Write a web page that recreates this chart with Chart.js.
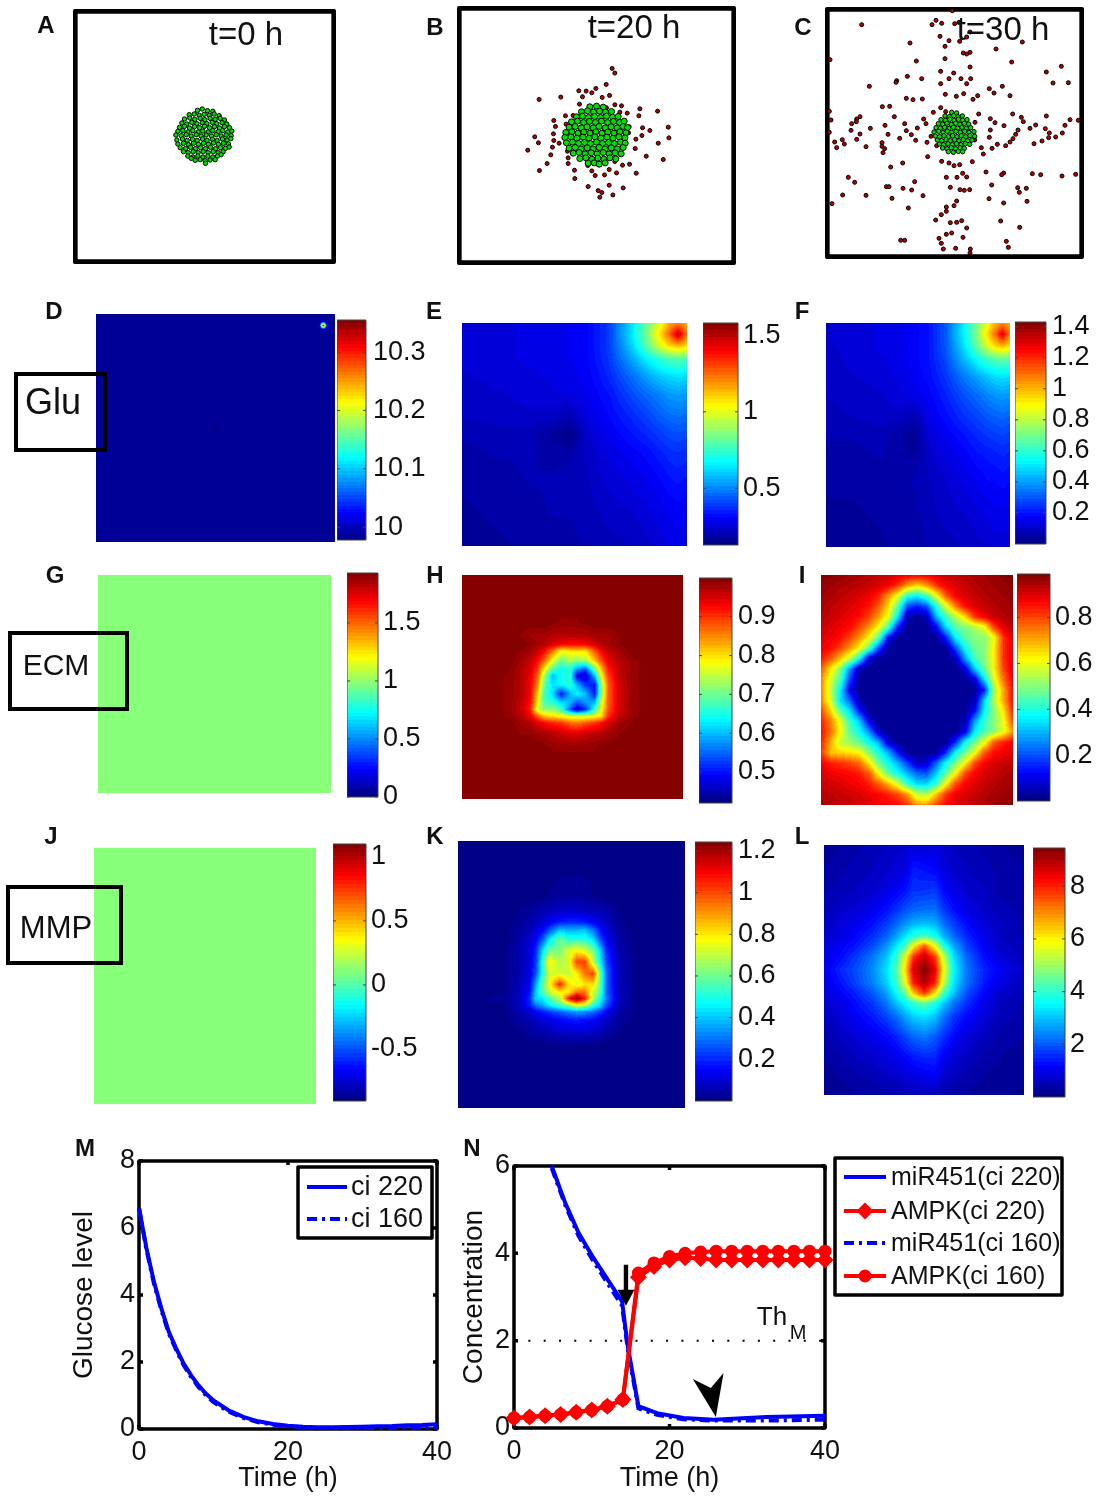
<!DOCTYPE html>
<html>
<head>
<meta charset="utf-8">
<title>Tumor growth panels</title>
<script src="https://cdn.jsdelivr.net/npm/chart.js@4"></script>
<style>
  html, body { margin: 0; background: #fff; }
  body { position: relative; width: 1097px; height: 1497px; overflow: hidden; font-family: "Liberation Sans", sans-serif; color: #111; }
  canvas { position: absolute; }
  .lbl { position: absolute; transform: translate(-50%, -50%); white-space: nowrap; line-height: 1; z-index: 5; }
  .box { position: absolute; border: 4px solid #000; box-sizing: border-box; z-index: 4; }
</style>
</head>
<body>
<script>
// ---- panel A-C: cell positions
const tumorA = [[592,332],[606,328],[622,333],[638,335],[567,345],[582,343],[597,347],[612,344],[627,347],[642,343],[657,348],[553,358],[569,355],[584,359],[600,356],[614,360],[630,356],[645,359],[660,356],[673,361],[545,370],[560,373],[575,368],[590,372],[606,369],[620,372],[636,368],[650,372],[666,369],[680,373],[538,383],[553,380],[568,385],[583,381],[598,384],[613,380],[628,384],[643,381],[658,385],[673,381],[688,384],[533,395],[548,393],[563,397],[578,393],[594,397],[608,394],[624,397],[638,393],[654,396],[668,393],[683,397],[695,394],[527,406],[543,408],[558,405],[573,409],[588,405],[603,409],[618,406],[634,409],[648,405],[663,409],[678,406],[693,408],[530,421],[547,418],[561,422],[577,419],[591,422],[607,418],[621,422],[637,419],[651,422],[667,418],[681,421],[692,417],[533,433],[550,431],[565,435],[580,431],[595,434],[610,431],[625,434],[640,430],[655,434],[670,431],[685,433],[540,444],[556,447],[571,443],[586,447],[601,444],[616,447],[631,443],[646,447],[661,444],[676,446],[687,442],[550,456],[564,459],[579,456],[594,459],[609,456],[624,459],[639,456],[654,459],[669,456],[563,469],[578,472],[593,469],[608,472],[623,469],[638,472],[652,469],[663,465],[573,476],[585,482],[600,480],[615,483],[630,481],[645,480],[616,491]];
const tumorB = [[450,319],[470,317],[490,320],[425,334],[443,331],[461,335],[479,332],[497,335],[515,333],[410,349],[428,347],[446,351],[464,348],[482,351],[500,347],[518,350],[535,348],[395,364],[413,362],[431,366],[449,363],[467,366],[485,362],[503,366],[521,363],[539,366],[553,362],[388,380],[406,378],[424,382],[442,379],[460,382],[478,378],[496,382],[514,379],[532,382],[550,378],[563,381],[378,396],[396,394],[414,398],[432,395],[450,398],[468,394],[486,398],[504,395],[522,398],[540,394],[558,397],[375,411],[393,409],[411,413],[429,410],[447,413],[465,409],[483,413],[501,410],[519,413],[537,409],[555,412],[380,427],[398,425],[416,429],[434,426],[452,429],[470,425],[488,429],[506,426],[524,429],[542,425],[556,428],[388,443],[406,441],[424,445],[442,442],[460,445],[478,441],[496,445],[514,442],[532,445],[550,441],[400,458],[418,456],[436,460],[454,457],[472,460],[490,456],[508,460],[526,457],[544,460],[420,474],[438,472],[456,476],[474,473],[492,476],[510,472],[528,475],[445,488],[463,487],[478,491],[496,487]];
const tumorC = [[425,338],[440,340],[405,349],[418,351],[431,348],[444,351],[457,349],[393,360],[406,362],[419,359],[432,362],[445,359],[458,362],[471,360],[385,372],[398,374],[411,371],[424,374],[437,371],[450,374],[463,371],[476,373],[378,384],[391,386],[404,383],[417,386],[430,383],[443,386],[456,383],[469,386],[482,384],[372,397],[386,395],[399,398],[412,395],[425,398],[438,395],[451,398],[464,395],[477,398],[492,396],[376,409],[389,411],[402,408],[415,411],[428,408],[441,411],[454,408],[467,411],[480,408],[494,410],[382,421],[395,423],[408,420],[421,423],[434,420],[447,423],[460,420],[473,423],[486,421],[388,433],[401,435],[414,432],[427,435],[440,432],[453,435],[466,432],[479,434],[398,445],[411,447],[424,444],[437,447],[450,444],[463,446],[415,456],[430,458],[445,455],[458,456]];
const invasiveB = [[517,204],[525,218],[499,252],[298,297],[363,290],[417,271],[439,272],[456,277],[468,264],[428,289],[487,291],[509,285],[419,311],[525,313],[545,316],[600,325],[653,332],[540,335],[562,338],[597,346],[342,360],[377,346],[400,345],[347,378],[379,371],[568,379],[608,382],[630,390],[685,380],[341,400],[285,409],[296,427],[342,420],[358,428],[566,397],[606,405],[588,416],[687,412],[338,440],[264,449],[655,428],[586,444],[383,452],[333,463],[385,472],[619,467],[670,477],[322,489],[385,489],[525,483],[548,494],[569,491],[444,495],[299,510],[404,509],[456,511],[508,507],[530,517],[589,518],[466,525],[494,523],[405,534],[445,558],[508,554],[550,562],[475,570],[486,576],[519,583],[480,590],[500,322]];
const invasiveC = [[155,75],[427,33],[378,62],[366,75],[395,71],[434,72],[447,68],[480,97],[390,110],[417,123],[405,140],[449,125],[470,112],[637,127],[300,130],[558,148],[460,160],[470,163],[480,158],[405,177],[319,184],[605,187],[60,180],[480,202],[392,215],[431,220],[709,217],[754,200],[292,230],[260,243],[335,237],[417,237],[453,237],[482,237],[470,252],[392,252],[258,248],[729,250],[775,249],[178,260],[577,260],[538,267],[552,280],[461,282],[406,284],[439,290],[600,288],[503,288],[289,296],[309,300],[337,298],[489,299],[217,321],[239,320],[392,324],[370,338],[407,336],[506,343],[608,343],[253,351],[150,351],[140,358],[139,366],[125,372],[63,361],[341,358],[348,372],[541,357],[555,369],[634,353],[640,366],[709,349],[780,360],[765,377],[284,372],[225,377],[181,386],[123,392],[322,385],[289,393],[582,378],[541,391],[495,368],[660,386],[677,376],[706,387],[718,400],[624,391],[757,400],[150,403],[234,404],[304,405],[269,416],[363,410],[617,404],[538,413],[716,414],[737,412],[140,419],[97,420],[103,433],[74,427],[80,444],[216,429],[317,422],[351,428],[494,421],[609,417],[600,427],[587,438],[562,434],[672,432],[696,424],[168,441],[216,440],[224,447],[219,459],[380,438],[514,444],[546,446],[520,463],[353,471],[487,486],[395,485],[417,490],[432,498],[449,495],[278,490],[242,502],[528,517],[458,521],[441,533],[470,532],[409,533],[581,520],[575,525],[667,522],[692,525],[756,529],[797,524],[115,533],[134,548],[314,546],[545,556],[229,561],[237,561],[279,566],[305,571],[421,563],[450,570],[463,572],[479,570],[623,564],[649,566],[628,578],[98,586],[168,587],[339,588],[246,596],[537,597],[581,610],[651,605],[66,612],[440,604],[432,618],[409,622],[295,625],[409,635],[394,645],[377,661],[455,663],[421,669],[440,668],[572,664],[470,685],[629,683],[425,700],[409,704],[387,716],[459,713],[272,722],[284,722],[589,725],[394,731],[595,743],[400,748],[437,746],[481,748],[480,760],[58,335],[58,398],[805,362]];

// ---- panels D-L: field values on read-off nodes
const dX = [0,47,50,53,91.9,93.5,95.1,96.7,98.3,100];
const dY = [0,1.6,3.3,5,6.7,8.4,46,50,54,100];
const dGrid = [
  [9.987,9.987,9.987,9.987,9.987,9.987,9.987,9.987,9.987,9.987],
  [9.987,9.987,9.987,9.987,9.987,9.987,9.987,9.987,9.987,9.987],
  [9.987,9.987,9.987,9.987,9.987,9.987,10.0,9.987,9.987,9.987],
  [9.987,9.987,9.987,9.987,9.987,10.0,10.35,10.0,9.987,9.987],
  [9.987,9.987,9.987,9.987,9.987,9.987,10.0,9.987,9.987,9.987],
  [9.987,9.987,9.987,9.987,9.987,9.987,9.987,9.987,9.987,9.987],
  [9.987,9.987,9.987,9.987,9.987,9.987,9.987,9.987,9.987,9.987],
  [9.987,9.987,9.981,9.987,9.987,9.987,9.987,9.987,9.987,9.987],
  [9.987,9.987,9.987,9.987,9.987,9.987,9.987,9.987,9.987,9.987],
  [9.987,9.987,9.987,9.987,9.987,9.987,9.987,9.987,9.987,9.987]
];
const efX = [0,15,30,40,48,56,65,75,82,88,92,96,100];
const efY = [0,5,10,16,24,32,42,50,58,70,85,100];
const eGrid = [
  [.25,.26,.27,.28,.29,.31,.39,.62,.82,1.0,1.15,1.2,1.15],
  [.25,.26,.27,.28,.29,.31,.39,.63,.84,1.08,1.25,1.5,1.22],
  [.25,.26,.27,.28,.29,.31,.39,.6,.8,1.0,1.1,1.15,1.1],
  [.25,.26,.27,.28,.29,.31,.38,.54,.66,.74,.78,.8,.78],
  [.24,.25,.26,.27,.28,.3,.36,.46,.54,.6,.62,.64,.62],
  [.23,.24,.25,.26,.27,.29,.33,.41,.46,.5,.53,.54,.53],
  [.22,.23,.24,.23,.2,.27,.31,.36,.4,.44,.46,.47,.46],
  [.2,.21,.21,.17,.14,.24,.29,.33,.36,.39,.41,.42,.41],
  [.19,.2,.2,.19,.19,.23,.27,.3,.32,.35,.37,.38,.37],
  [.18,.19,.2,.2,.21,.22,.25,.27,.29,.31,.33,.34,.33],
  [.17,.18,.19,.2,.2,.21,.23,.24,.26,.28,.29,.3,.29],
  [.17,.17,.18,.18,.19,.2,.21,.22,.23,.25,.27,.28,.27]
];
const fGrid = [
  [.11,.12,.14,.15,.17,.2,.3,.52,.7,.88,1.0,1.05,1.0],
  [.11,.12,.14,.15,.17,.2,.3,.53,.72,.95,1.1,1.3,1.05],
  [.11,.12,.14,.15,.17,.2,.3,.5,.68,.86,.96,1.0,.95],
  [.1,.12,.13,.15,.17,.2,.28,.44,.55,.63,.66,.68,.66],
  [.1,.11,.12,.14,.16,.19,.25,.35,.41,.46,.49,.5,.49],
  [.09,.1,.11,.13,.15,.17,.22,.29,.33,.37,.39,.4,.39],
  [.08,.09,.1,.1,.07,.15,.19,.24,.27,.3,.31,.32,.31],
  [.07,.07,.08,.05,.03,.12,.16,.2,.23,.25,.26,.27,.26],
  [.06,.06,.07,.05,.04,.1,.14,.17,.2,.21,.22,.23,.22],
  [.05,.05,.06,.06,.07,.09,.11,.14,.16,.18,.18,.19,.18],
  [.04,.04,.05,.06,.06,.08,.1,.11,.13,.14,.15,.15,.15],
  [.03,.03,.04,.05,.05,.07,.08,.09,.1,.11,.12,.12,.12]
];
const flatX = [0,100];
const flatY = [0,100];
const gGrid = [[.994,.994],[.994,.994]];
const jGrid = [[.127,.127],[.127,.127]];
const hX = [37,176,215,242,262,282,308,334,361,381,407,434,454,473,506,552,698];
const hY = [46,187,227,254,274,301,328,348,375,402,428,449,469,489,522,563,717];
const hGrid = [
  [1,1,1,1,1,1,1,1,1,1,1,1,1,1,1,1,1],
  [1,1,1,1,1,1,.995,.99,.99,.99,.995,1,1,1,1,1,1],
  [1,1,.99,.98,.98,.98,.97,.97,.97,.97,.97,.98,.98,.98,.99,1,1],
  [1,1,1,.99,.98,.97,.95,.93,.92,.92,.93,.95,.97,.98,.99,1,1],
  [1,1,.99,.98,.96,.93,.86,.78,.8,.8,.8,.88,.93,.96,.98,1,1],
  [1,1,.98,.96,.93,.88,.78,.70,.74,.72,.74,.82,.89,.94,.97,.99,1],
  [1,.995,.97,.95,.90,.80,.68,.64,.66,.58,.54,.70,.82,.91,.96,.99,1],
  [1,.99,.97,.94,.88,.74,.60,.65,.66,.48,.46,.60,.78,.89,.96,.99,1],
  [1,.99,.97,.93,.86,.70,.62,.64,.66,.60,.52,.50,.72,.87,.95,.99,1],
  [1,.99,.97,.93,.82,.68,.62,.50,.60,.64,.60,.50,.72,.87,.95,.99,1],
  [1,.99,.96,.92,.80,.68,.66,.62,.60,.54,.58,.60,.76,.87,.95,.99,1],
  [1,.99,.96,.91,.76,.72,.72,.68,.54,.46,.52,.66,.78,.88,.95,.99,1],
  [1,.99,.97,.94,.88,.82,.80,.78,.76,.76,.76,.78,.80,.90,.96,.99,1],
  [1,1,.98,.97,.95,.93,.91,.90,.87,.86,.88,.90,.92,.95,.98,.995,1],
  [1,1,.99,.99,.98,.98,.97,.96,.95,.95,.96,.97,.97,.98,.99,1,1],
  [1,1,1,1,1,.995,.99,.99,.99,.99,.99,.99,1,1,1,1,1],
  [1,1,1,1,1,1,1,1,1,1,1,1,1,1,1,1,1]
];
const iX = [62,91,120,149,178,207,235,264,293,322,351,380,409,438,467,496,525,553,582,611,640];
const iY = [46,77,109,140,171,202,234,265,296,328,359,390,422,453,484,515,547,578,609,640,672,703,735];
const iGrid = [
  [.98,.98,.97,.96,.95,.94,.93,.92,.9,.88,.87,.88,.9,.92,.93,.94,.95,.96,.97,.98,.99],
  [.97,.96,.95,.94,.93,.92,.9,.88,.82,.72,.66,.72,.82,.88,.9,.92,.94,.95,.96,.97,.98],
  [.96,.95,.93,.92,.9,.88,.84,.72,.6,.4,.36,.44,.6,.78,.87,.9,.92,.94,.95,.96,.97],
  [.95,.93,.92,.9,.88,.85,.78,.66,.46,.2,.15,.2,.4,.58,.75,.86,.9,.92,.94,.95,.96],
  [.94,.92,.9,.88,.86,.8,.72,.6,.36,.05,.02,.05,.3,.44,.54,.66,.82,.88,.92,.94,.95],
  [.92,.9,.88,.86,.8,.72,.62,.45,.15,.02,.02,.02,.12,.34,.46,.5,.54,.6,.8,.9,.93],
  [.9,.88,.86,.8,.72,.62,.46,.12,.02,.02,.02,.02,.02,.15,.36,.46,.5,.5,.6,.82,.9],
  [.88,.86,.8,.72,.62,.46,.2,.02,.02,.02,.02,.02,.02,.02,.2,.38,.48,.5,.62,.82,.9],
  [.85,.78,.68,.56,.38,.08,.02,.02,.02,.02,.02,.02,.02,.02,.05,.28,.44,.5,.62,.82,.9],
  [.78,.64,.5,.26,.04,.02,.02,.02,.02,.02,.02,.02,.02,.02,.02,.08,.32,.46,.62,.8,.9],
  [.74,.58,.44,.18,.02,.02,.02,.02,.02,.02,.02,.02,.02,.02,.02,.02,.08,.34,.58,.76,.88],
  [.74,.56,.36,.1,.02,.02,.02,.02,.02,.02,.02,.02,.02,.02,.02,.02,.02,.14,.52,.7,.87],
  [.74,.58,.34,.22,.04,.02,.02,.02,.02,.02,.02,.02,.02,.02,.02,.02,.06,.32,.54,.7,.87],
  [.8,.66,.46,.34,.14,.02,.02,.02,.02,.02,.02,.02,.02,.02,.02,.02,.12,.36,.5,.64,.84],
  [.84,.74,.6,.42,.32,.1,.02,.02,.02,.02,.02,.02,.02,.02,.02,.05,.28,.42,.5,.6,.8],
  [.86,.76,.62,.46,.38,.26,.06,.02,.02,.02,.02,.02,.02,.02,.02,.1,.36,.44,.5,.6,.72],
  [.84,.7,.56,.52,.46,.38,.3,.08,.02,.02,.02,.02,.02,.02,.16,.38,.48,.6,.78,.84,.88],
  [.82,.68,.66,.64,.62,.5,.4,.3,.14,.02,.02,.02,.02,.16,.38,.48,.6,.78,.86,.88,.9],
  [.88,.84,.82,.8,.76,.64,.48,.38,.3,.18,.06,.08,.22,.38,.48,.62,.8,.87,.9,.92,.93],
  [.9,.88,.87,.86,.84,.78,.62,.46,.38,.3,.22,.2,.32,.46,.62,.8,.87,.9,.92,.94,.95],
  [.92,.91,.9,.88,.87,.84,.78,.7,.58,.42,.34,.34,.42,.62,.8,.87,.9,.92,.94,.95,.96],
  [.94,.93,.92,.91,.9,.88,.86,.84,.8,.72,.56,.54,.68,.82,.88,.9,.92,.94,.95,.96,.97],
  [.95,.94,.93,.92,.91,.9,.88,.87,.86,.82,.72,.72,.8,.86,.9,.91,.93,.94,.96,.97,.98]
];
const kX = [25,170,210,240,258,278,298,330,355,380,405,430,450,470,505,555,705];
const kY = [32,195,240,275,300,325,360,395,430,462,485,505,525,545,570,640,833];
const kGrid = [
  [0,0,0,0,0,0,0,0,0,0,0,0,0,0,0,0,0],
  [0,0,0,0,0,.01,.02,.03,.03,.03,.03,.02,.01,0,0,0,0],
  [0,0,.02,.03,.05,.06,.07,.08,.09,.09,.08,.07,.06,.05,.02,0,0],
  [0,.01,.03,.05,.07,.10,.13,.18,.20,.20,.18,.14,.11,.08,.03,0,0],
  [0,.01,.04,.07,.10,.15,.25,.40,.38,.38,.40,.30,.18,.11,.04,.01,0],
  [0,.01,.05,.09,.14,.25,.42,.60,.50,.50,.50,.42,.25,.14,.05,.01,0],
  [0,.02,.06,.11,.20,.42,.60,.62,.72,.78,.72,.62,.42,.20,.06,.01,0],
  [0,.02,.06,.12,.22,.50,.80,.68,.72,1.0,1.02,.70,.48,.24,.07,.02,0],
  [0,.02,.06,.13,.25,.50,.72,.72,.70,.78,.95,1.02,.62,.28,.07,.02,0],
  [0,.02,.07,.15,.35,.58,.76,1.05,.82,.74,.80,.82,.60,.28,.07,.02,0],
  [0,.02,.08,.17,.40,.56,.70,.80,.78,.95,.95,.72,.58,.28,.08,.02,0],
  [0,.03,.09,.20,.42,.44,.56,.68,1.05,1.24,1.05,.68,.50,.30,.08,.02,0],
  [0,.02,.08,.18,.30,.36,.44,.55,.62,.75,.70,.52,.42,.25,.07,.02,0],
  [0,.02,.06,.10,.14,.18,.22,.26,.30,.34,.32,.28,.22,.14,.05,.01,0],
  [0,.01,.04,.06,.08,.10,.12,.15,.17,.18,.17,.15,.12,.08,.04,.01,0],
  [0,0,0,.01,.01,.01,.02,.02,.02,.02,.02,.02,.02,.01,0,0,0],
  [0,0,0,0,0,0,0,0,0,0,0,0,0,0,0,0,0]
];
const lX = [42,90,140,190,230,260,285,310,343,375,400,430,470,520,570,642];
const lY = [46,120,180,240,280,320,350,380,420,460,490,520,560,620,680,740,795];
const lGrid = [
  [.2,.3,.4,.5,.6,.7,.7,.8,.8,.8,.7,.6,.5,.4,.3,.2],
  [.3,.4,.5,.6,.7,.8,.9,1.4,1.3,1.2,.9,.7,.6,.5,.4,.3],
  [.4,.5,.6,.7,.9,1.1,1.3,1.6,1.6,1.7,1.2,.9,.7,.6,.4,.3],
  [.5,.7,.8,1.0,1.3,1.6,1.9,2.1,2.2,2.2,1.7,1.3,.9,.7,.5,.4],
  [.6,.8,1.0,1.3,1.7,2.1,2.5,2.8,2.9,2.8,2.2,1.7,1.2,.8,.6,.4],
  [.7,.9,1.2,1.6,2.1,2.7,3.3,3.9,4.3,3.8,2.9,2.2,1.5,1.0,.6,.4],
  [.8,1.1,1.4,1.9,2.6,3.4,4.2,6.0,7.6,5.8,4.0,2.8,1.8,1.1,.7,.5],
  [.9,1.2,1.7,2.3,3.0,4.0,5.6,7.8,8.8,7.7,5.4,3.3,2.1,1.3,.8,.5],
  [1.0,1.5,1.9,2.5,3.3,4.3,6.2,8.6,9.45,8.5,6.0,3.6,2.3,1.5,1.1,.6],
  [.9,1.3,1.8,2.4,3.1,4.1,5.6,8.0,9.0,8.0,5.4,3.4,2.2,1.4,.9,.5],
  [.8,1.1,1.5,2.0,2.7,3.6,4.4,6.4,7.8,6.2,4.2,3.0,1.9,1.2,.7,.5],
  [.7,.9,1.3,1.7,2.3,3.0,3.5,4.0,4.4,3.8,3.1,2.3,1.6,1.0,.6,.4],
  [.6,.8,1.1,1.4,1.8,2.2,2.7,3.1,3.3,3.0,2.3,1.7,1.2,.8,.5,.4],
  [.4,.6,.8,1.0,1.2,1.5,1.8,2.1,2.3,2.0,1.6,1.2,.8,.6,.4,.3],
  [.3,.4,.6,.7,.9,1.0,1.2,1.4,1.5,1.5,1.1,.8,.6,.4,.3,.2],
  [.2,.3,.4,.5,.6,.7,.8,.9,1.0,1.1,.7,.6,.4,.3,.2,.2],
  [.1,.2,.3,.3,.4,.4,.5,.5,.5,.5,.4,.3,.3,.2,.2,.1]
];

// colour ranges and colorbar ticks
const dRange = [9.978,10.355], dTicks = [10,10.1,10.2,10.3];
const eRange = [.13,1.58], eTicks = [.5,1,1.5];
const fRange = [0,1.43], fTicks = [.2,.4,.6,.8,1,1.2,1.4];
const gRange = [0,1.93], gTicks = [0,.5,1,1.5];
const hRange = [.42,1], hTicks = [.5,.6,.7,.8,.9];
const iRange = [0,.99], iTicks = [.2,.4,.6,.8];
const jRange = [-.906,1.1], jTicks = [-.5,0,.5,1];
const kRange = [0,1.243], kTicks = [.2,.4,.6,.8,1,1.2];
const lRange = [0,9.45], lTicks = [2,4,6,8];

// ---- panel M
const glucoseTime = [0,1,2,3,4,5,6,7,8,9,10,12,14,16,18,20,22,24,26,28,30,32,34,36,38,40];
const glucose220 = [6.6,5.4,4.4,3.6,2.9,2.4,1.95,1.6,1.3,1.05,.85,.56,.36,.23,.15,.1,.07,.05,.05,.06,.07,.08,.09,.11,.12,.14];
const glucose160 = [6.6,5.35,4.35,3.55,2.85,2.35,1.9,1.55,1.25,1,.8,.52,.33,.2,.13,.08,.05,.03,.03,.03,.03,.03,.03,.03,.04,.04];
const mTicksX = [0,20,40], mTicksY = [0,2,4,6,8];

// ---- panel N
const mirTime = [4.85,6.6,8.3,10.2,11.9,13.9,14.3,14.7,15.4,16,18.4,21.8,25.7,32.5,40];
const mir220 = [6,5.15,4.47,3.9,3.44,2.9,2.33,1.8,1.1,.5,.34,.23,.19,.25,.28];
const mir160 = [5.95,5.1,4.4,3.82,3.35,2.8,2.25,1.72,1.05,.45,.3,.2,.17,.17,.19];
const ampkTime = [0,2,4,6,8,10,12,14,16,18,20,22,24,26,28,30,32,34,36,38,40];
const ampk220 = [.23,.25,.28,.31,.36,.41,.5,.65,3.45,3.7,3.85,3.9,3.88,3.85,3.85,3.85,3.85,3.85,3.85,3.85,3.85];
const ampk160 = [.23,.25,.28,.31,.36,.41,.5,.65,3.55,3.78,3.93,4,4.03,4.05,4.05,4.05,4.05,4.05,4.05,4.05,4.05];
const thresholdX = [1.85,39.5], thresholdY = [2,2];
const nTicksX = [0,20,40], nTicksY = [0,2,4,6];
const arrowTip = [14.4,2.8], arrowheadTip = [25.96,.25];

Chart.defaults.font.family = '"Liberation Sans", sans-serif';
Chart.defaults.color = '#111';
Chart.defaults.animation = false;

function jet(t) {
  const idx = Math.max(0, Math.min(63, Math.floor(t * 64)));
  const v = (idx + .5) / 64;
  const c = n => Math.round(255 * Math.max(0, Math.min(1, n)));
  return [c(Math.min(4 * v - 1.5, 4.5 - 4 * v)), c(Math.min(4 * v - .5, 3.5 - 4 * v)), c(Math.min(4 * v + .5, 2.5 - 4 * v))];
}

function locate(nodes, v) {
  let i = 0;
  while (i < nodes.length - 2 && v > nodes[i + 1]) i++;
  const f = (v - nodes[i]) / (nodes[i + 1] - nodes[i]);
  return [i, Math.max(0, Math.min(1, f))];
}

// like matlab shading interp: colours each pixel from the grid through the chart's scales
const heatPlugin = {
  id: 'heat',
  beforeDatasetsDraw(chart) {
    const ds = chart.data.datasets[0];
    if (!ds || !ds.grid) return;
    const a = chart.chartArea;
    const w = Math.round(a.right - a.left), h = Math.round(a.bottom - a.top);
    const off = document.createElement('canvas');
    off.width = w; off.height = h;
    const octx = off.getContext('2d');
    const img = octx.createImageData(w, h);
    const cols = [], rows = [];
    for (let i = 0; i < w; i++) cols.push(locate(ds.xNodes, chart.scales.x.getValueForPixel(a.left + i + .5)));
    for (let j = 0; j < h; j++) rows.push(locate(ds.yNodes, chart.scales.y.getValueForPixel(a.top + j + .5)));
    let p = 0;
    rows.forEach(([r, fr]) => {
      cols.forEach(([c, fc]) => {
        const top = ds.grid[r][c] * (1 - fc) + ds.grid[r][c + 1] * fc;
        const bot = ds.grid[r + 1][c] * (1 - fc) + ds.grid[r + 1][c + 1] * fc;
        const v = top * (1 - fr) + bot * fr;
        const rgb = jet((v - ds.range[0]) / (ds.range[1] - ds.range[0]));
        img.data[p++] = rgb[0]; img.data[p++] = rgb[1]; img.data[p++] = rgb[2]; img.data[p++] = 255;
      });
    });
    octx.putImageData(img, 0, 0);
    chart.ctx.drawImage(off, a.left, a.top);
  }
};

// box round the plot area with short inward ticks
const framePlugin = {
  id: 'frame',
  beforeDatasetsDraw(chart, args, opts) {
    if (!opts.width) return;
    const ctx = chart.ctx, a = chart.chartArea, ins = opts.inset || 0;
    ctx.save();
    ctx.strokeStyle = opts.color || '#000';
    ctx.lineWidth = opts.width;
    ctx.lineJoin = 'round';
    ctx.strokeRect(a.left + ins, a.top + ins, a.right - a.left - 2 * ins, a.bottom - a.top - 2 * ins);
    if (opts.tick) {
      ctx.beginPath();
      if (chart.scales.x.options.display) chart.scales.x.ticks.forEach(t => {
        const x = chart.scales.x.getPixelForValue(t.value);
        ctx.moveTo(x, a.top); ctx.lineTo(x, a.top + opts.tick);
        ctx.moveTo(x, a.bottom); ctx.lineTo(x, a.bottom - opts.tick);
      });
      chart.scales.y.ticks.forEach(t => {
        const y = chart.scales.y.getPixelForValue(t.value);
        ctx.moveTo(a.left, y); ctx.lineTo(a.left + opts.tick, y);
        ctx.moveTo(a.right, y); ctx.lineTo(a.right - opts.tick, y);
      });
      ctx.stroke();
    }
    ctx.restore();
  }
};

// matlab style legend box, samples are taken from the datasets
const boxLegendPlugin = {
  id: 'boxLegend',
  afterDatasetsDraw(chart, args, opts) {
    if (!opts.rows) return;
    const ctx = chart.ctx;
    ctx.save();
    ctx.fillStyle = '#fff';
    ctx.fillRect(opts.left, opts.top, opts.right - opts.left, opts.bottom - opts.top);
    ctx.strokeStyle = '#000';
    ctx.lineWidth = 3.5;
    ctx.lineJoin = 'round';
    ctx.strokeRect(opts.left, opts.top, opts.right - opts.left, opts.bottom - opts.top);
    const named = chart.data.datasets.filter(d => d.label);
    named.forEach((d, i) => {
      const y = opts.rows[i];
      ctx.strokeStyle = d.borderColor;
      ctx.lineWidth = d.borderWidth;
      ctx.setLineDash(d.borderDash || []);
      ctx.beginPath();
      ctx.moveTo(opts.lineFrom, y);
      ctx.lineTo(opts.lineTo, y);
      ctx.stroke();
      ctx.setLineDash([]);
      if (d.pointRadius) {
        ctx.fillStyle = d.borderColor;
        Chart.helpers.drawPoint(ctx, { pointStyle: d.pointStyle, radius: d.pointRadius, borderWidth: 0, rotation: 0 }, (opts.lineFrom + opts.lineTo) / 2, y);
      }
      ctx.fillStyle = '#111';
      ctx.font = opts.fontSize + 'px "Liberation Sans", sans-serif';
      ctx.textBaseline = 'middle';
      ctx.fillText(d.label, opts.textX, y + 1);
    });
    ctx.restore();
  }
};

// arrow and arrowhead of panel N
const pointersPlugin = {
  id: 'pointers',
  afterDatasetsDraw(chart) {
    if (chart.canvas.id !== 'panelN') return;
    const ctx = chart.ctx, sx = chart.scales.x, sy = chart.scales.y;
    const ax = sx.getPixelForValue(arrowTip[0]), ay = sy.getPixelForValue(arrowTip[1]);
    const bx = sx.getPixelForValue(arrowheadTip[0]), by = sy.getPixelForValue(arrowheadTip[1]);
    ctx.save();
    ctx.fillStyle = '#000';
    ctx.beginPath();
    ctx.moveTo(ax, ay); ctx.lineTo(ax + 8.5, ay - 16); ctx.lineTo(ax + 2.2, ay - 16); ctx.lineTo(ax + 2.2, ay - 41);
    ctx.lineTo(ax - 2.2, ay - 41); ctx.lineTo(ax - 2.2, ay - 16); ctx.lineTo(ax - 8.5, ay - 16);
    ctx.closePath(); ctx.fill();
    ctx.beginPath();
    ctx.moveTo(bx, by); ctx.lineTo(bx + 7.7, by - 44); ctx.lineTo(bx - 5, by - 29); ctx.lineTo(bx - 23, by - 38);
    ctx.closePath(); ctx.fill();
    ctx.restore();
  }
};

Chart.register(heatPlugin, framePlugin, boxLegendPlugin, pointersPlugin);

function addCanvas(left, top, width, height, id) {
  const c = document.createElement('canvas');
  c.width = width; c.height = height;
  c.style.left = left + 'px';
  c.style.top = top + 'px';
  if (id) c.id = id;
  document.body.appendChild(c);
  return c;
}

function addLabel(text, cx, cy, size, bold) {
  const d = document.createElement('div');
  d.className = 'lbl';
  d.textContent = text;
  d.style.left = cx + 'px';
  d.style.top = cy + 'px';
  d.style.fontSize = size + 'px';
  if (bold) d.style.fontWeight = 'bold';
  document.body.appendChild(d);
}

function addBox(left, top, width, height) {
  const d = document.createElement('div');
  d.className = 'box';
  d.style.left = left + 'px';
  d.style.top = top + 'px';
  d.style.width = width + 'px';
  d.style.height = height + 'px';
  document.body.appendChild(d);
}

const hiddenAxis = (min, max, reverse) => ({ type: 'linear', display: false, min, max, reverse: !!reverse });
const toPoints = list => list.map(p => ({ x: p[0], y: p[1] }));

function cellPanel(rect, xRange, yRange, tumor, invasive, tumorRadius) {
  const datasets = [{ data: toPoints(tumor), backgroundColor: '#00e000', borderColor: '#000', borderWidth: 1, pointRadius: tumorRadius }];
  if (invasive) datasets.push({ data: toPoints(invasive), backgroundColor: '#b80000', borderColor: '#000', borderWidth: 1, pointRadius: 2 });
  new Chart(addCanvas(rect[0], rect[1], rect[2], rect[3]), {
    type: 'scatter',
    data: { datasets },
    options: {
      responsive: false, devicePixelRatio: 1,
      layout: { padding: 0, autoPadding: false },
      scales: { x: hiddenAxis(xRange[0], xRange[1]), y: hiddenAxis(yRange[0], yRange[1], true) },
      plugins: { legend: { display: false }, tooltip: { enabled: false }, frame: { width: 4.7, inset: 2.3 } }
    }
  });
}

function heatPanel(rect, xNodes, yNodes, grid, range) {
  const cells = [];
  yNodes.forEach((y, r) => xNodes.forEach((x, c) => cells.push({ x, y, v: grid[r][c] })));
  new Chart(addCanvas(rect[0], rect[1], rect[2], rect[3]), {
    type: 'scatter',
    data: { datasets: [{ data: cells, pointRadius: 0, xNodes, yNodes, grid, range }] },
    options: {
      responsive: false, devicePixelRatio: 1,
      layout: { padding: 0, autoPadding: false },
      scales: { x: hiddenAxis(xNodes[0], xNodes[xNodes.length - 1]), y: hiddenAxis(yNodes[0], yNodes[yNodes.length - 1], true) },
      plugins: { legend: { display: false }, tooltip: { enabled: false } }
    }
  });
}

function colorbar(rect, range, ticks, labelGap) {
  const pad = 30, labelW = 70;
  const grid = [[range[0], range[0]], [range[1], range[1]]];
  new Chart(addCanvas(rect[0], rect[1] - pad, rect[2] + labelW, rect[3] + 2 * pad), {
    type: 'scatter',
    data: { datasets: [{ data: [{ x: 0, y: range[0] }, { x: 1, y: range[1] }], pointRadius: 0, xNodes: [0, 1], yNodes: range, grid, range }] },
    options: {
      responsive: false, devicePixelRatio: 1,
      layout: { padding: { top: pad, bottom: pad }, autoPadding: false },
      scales: {
        x: hiddenAxis(0, 1),
        y: {
          type: 'linear', position: 'right', min: range[0], max: range[1],
          grid: { display: false, drawTicks: false }, border: { display: false },
          afterBuildTicks: s => { s.ticks = ticks.map(value => ({ value })); },
          afterFit: s => { s.width = labelW; },
          ticks: { padding: labelGap, font: { size: 27 }, callback: v => String(v) }
        }
      },
      plugins: { legend: { display: false }, tooltip: { enabled: false }, frame: { width: 1, color: '#444', tick: 3 } }
    }
  });
}

function linePanel(id, rect, margins, yTitle, xMax, yMax, xTicks, yTicks, datasets, legendBox) {
  new Chart(addCanvas(rect[0], rect[1], rect[2], rect[3], id), {
    type: 'line',
    data: { datasets },
    options: {
      responsive: false, devicePixelRatio: 1,
      layout: { padding: { top: margins.top, right: margins.right }, autoPadding: false },
      scales: {
        x: {
          type: 'linear', min: 0, max: xMax,
          grid: { display: false, drawTicks: false }, border: { display: false },
          afterBuildTicks: s => { s.ticks = xTicks.map(value => ({ value })); },
          afterFit: s => { s.height = margins.bottom; },
          ticks: { padding: 7, maxRotation: 0, font: { size: 27 } },
          title: { display: true, text: 'Time (h)', font: { size: 27 }, padding: { top: 0, bottom: 2 } }
        },
        y: {
          type: 'linear', min: 0, max: yMax,
          grid: { display: false, drawTicks: false }, border: { display: false },
          afterBuildTicks: s => { s.ticks = yTicks.map(value => ({ value })); },
          afterFit: s => { s.width = margins.left; },
          ticks: { padding: 4, font: { size: 27 } },
          title: { display: true, text: yTitle, font: { size: 28 }, padding: { top: 7, bottom: 0 } }
        }
      },
      plugins: { legend: { display: false }, tooltip: { enabled: false }, frame: { width: 3.5, tick: 4 }, boxLegend: legendBox }
    }
  });
}

const zipXY = (xs, ys) => xs.map((x, i) => ({ x, y: ys[i] }));
const dashDot = [10, 5, 3, 5];

// row 1: cells
cellPanel([73, 9, 263, 255], [218, 1008], [28, 793], tumorA, null, 2.2);
cellPanel([457, 6, 279, 259], [52, 888], [17, 793], tumorB, invasiveB, 3);
cellPanel([825, 7, 259, 252], [45, 822], [22, 778], tumorC, invasiveC, 2.2);

// rows 2-4: fields and colorbars
heatPanel([96, 314, 239, 228], dX, dY, dGrid, dRange);
heatPanel([462, 323, 225, 223], efX, efY, eGrid, eRange);
heatPanel([826, 323, 184, 224], efX, efY, fGrid, fRange);
colorbar([337, 320, 29, 220], dRange, dTicks, 7);
colorbar([703, 323, 35, 222], eRange, eTicks, 5);
colorbar([1015, 322, 31, 222], fRange, fTicks, 6);

heatPanel([98, 575, 233, 218], flatX, flatY, gGrid, gRange);
heatPanel([462, 575, 221, 224], hX, hY, hGrid, hRange);
heatPanel([821, 575, 192, 230], iX, iY, iGrid, iRange);
colorbar([347, 573, 31, 224], gRange, gTicks, 5);
colorbar([699, 578, 33, 225], hRange, hTicks, 6);
colorbar([1017, 574, 33, 227], iRange, iTicks, 5);

heatPanel([94, 848, 222, 256], flatX, flatY, jGrid, jRange);
heatPanel([458, 841, 227, 267], kX, kY, kGrid, kRange);
heatPanel([824, 845, 200, 250], lX, lY, lGrid, lRange);
colorbar([333, 844, 33, 257], jRange, jTicks, 5);
colorbar([695, 842, 37, 259], kRange, kTicks, 6);
colorbar([1033, 848, 32, 249], lRange, lTicks, 5);

// row 5: curves
linePanel('panelM', [60, 1140, 410, 357], { top: 21, right: 33, left: 79, bottom: 68 }, 'Glucose level', 40, 8, mTicksX, mTicksY, [
  { label: 'ci 220', data: zipXY(glucoseTime, glucose220), borderColor: '#0000ff', borderWidth: 4, pointRadius: 0, clip: false, tension: 0 },
  { label: 'ci 160', data: zipXY(glucoseTime, glucose160), borderColor: '#0000ff', borderWidth: 4, borderDash: dashDot, pointRadius: 0, clip: false, tension: 0 }
], { left: 238, top: 27, right: 372, bottom: 98, rows: [47, 79], lineFrom: 247, lineTo: 287, textX: 291, fontSize: 27 });

linePanel('panelN', [450, 1145, 647, 352], { top: 21, right: 272, left: 64, bottom: 69 }, 'Concentration', 40, 6, nTicksX, nTicksY, [
  { label: 'miR451(ci 220)', data: zipXY(mirTime, mir220), borderColor: '#0000ff', borderWidth: 4, pointRadius: 0, clip: false, tension: 0, order: 2 },
  { label: 'AMPK(ci 220)', data: zipXY(ampkTime, ampk220), borderColor: '#ff0000', backgroundColor: '#ff0000', borderWidth: 4, pointStyle: 'rectRot', pointRadius: 8.5, pointBorderWidth: 0, clip: false, tension: 0, order: 0 },
  { label: 'miR451(ci 160)', data: zipXY(mirTime, mir160), borderColor: '#0000ff', borderWidth: 4, borderDash: dashDot, pointRadius: 0, clip: false, tension: 0, order: 3 },
  { label: 'AMPK(ci 160)', data: zipXY(ampkTime, ampk160), borderColor: '#ff0000', backgroundColor: '#ff0000', borderWidth: 4, pointStyle: 'circle', pointRadius: 6.5, pointBorderWidth: 0, clip: false, tension: 0, order: 1 },
  { data: zipXY(thresholdX, thresholdY), borderColor: '#000', borderWidth: 2, borderDash: [2, 13.3], pointRadius: 0, tension: 0, order: 4 }
], { left: 385, top: 13, right: 612, bottom: 150, rows: [32, 66, 98, 131], lineFrom: 394, lineTo: 436, textX: 441, fontSize: 25 });

// text
addLabel('t=0 h', 246, 33, 33);
addLabel('t=20 h', 634, 26, 33);
addLabel('t=30 h', 1003, 28, 33);
addBox(14, 372, 93, 80);
addLabel('Glu', 53, 402, 36);
addBox(8, 631, 121, 80);
addLabel('ECM', 56, 665, 30);
addBox(6, 885, 117, 80);
addLabel('MMP', 56, 927, 31);
addLabel('Th', 772, 1316, 26);
addLabel('M', 798, 1332, 20);
const panelLetters = ['A','B','C','D','E','F','G','H','I','J','K','L','M','N'];
const letterSpots = [[46,25],[435,27],[803,27],[54,311],[434,311],[802,311],[55,575],[435,575],[802,575],[51,836],[435,836],[802,836],[85,1148],[472,1148]];
panelLetters.forEach((s, i) => addLabel(s, letterSpots[i][0], letterSpots[i][1], 24, true));
</script>
</body>
</html>
